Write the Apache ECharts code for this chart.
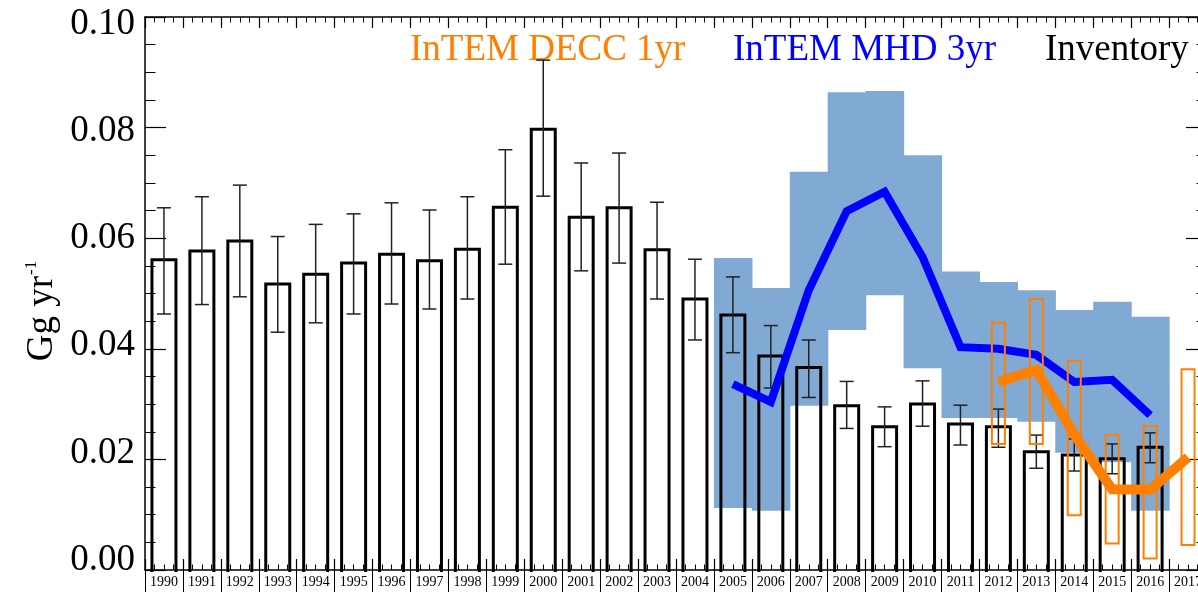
<!DOCTYPE html>
<html>
<head>
<meta charset="utf-8">
<script src="https://cdn.jsdelivr.net/npm/echarts@6/dist/echarts.min.js"></script>
<style>
  html, body { margin: 0; padding: 0; background: #fff; }
  #chart { width: 1198px; height: 592px; }
</style>
</head>
<body>
<div id="chart"></div>
<script>
// inventory (black bars with error bars)
const years = [1990, 1991, 1992, 1993, 1994, 1995, 1996, 1997, 1998, 1999, 2000, 2001, 2002, 2003,
  2004, 2005, 2006, 2007, 2008, 2009, 2010, 2011, 2012, 2013, 2014, 2015, 2016];
const inventory = [0.0561, 0.0577, 0.0595, 0.0517, 0.0535, 0.0555, 0.0571, 0.0559, 0.0580, 0.0656,
  0.0797, 0.0638, 0.0655, 0.0579, 0.0490, 0.0461, 0.0387, 0.0366, 0.0297, 0.0259, 0.0300, 0.0264,
  0.0259, 0.0214, 0.0208, 0.0201, 0.0222];
const invLow = [0.0463, 0.0480, 0.0494, 0.0430, 0.0447, 0.0463, 0.0481, 0.0472, 0.0490, 0.0553,
  0.0676, 0.0541, 0.0555, 0.0490, 0.0416, 0.0393, 0.0329, 0.0312, 0.0256, 0.0223, 0.0260, 0.0226,
  0.0222, 0.0184, 0.0179, 0.0174, 0.0194];
const invHigh = [0.0655, 0.0675, 0.0696, 0.0603, 0.0625, 0.0644, 0.0664, 0.0651, 0.0675, 0.0760,
  0.0922, 0.0736, 0.0754, 0.0665, 0.0562, 0.0530, 0.0442, 0.0416, 0.0341, 0.0295, 0.0342, 0.0298,
  0.0291, 0.0244, 0.0237, 0.0228, 0.0248];

// InTEM MHD 3yr (blue line + shaded range)
const mhdYears = [2005, 2006, 2007, 2008, 2009, 2010, 2011, 2012, 2013, 2014, 2015, 2016];
const mhd = [0.0336, 0.0304, 0.0506, 0.0649, 0.0684, 0.0566, 0.0403, 0.0400, 0.0389, 0.0340, 0.0344, 0.0280];
const mhdLow = [0.0112, 0.0107, 0.0297, 0.0434, 0.0497, 0.0365, 0.0275, 0.0275, 0.0268, 0.0212, 0.0195, 0.0107];
const mhdHigh = [0.0564, 0.0510, 0.0720, 0.0864, 0.0866, 0.0750, 0.0540, 0.0521, 0.0506, 0.0470, 0.0485, 0.0458];

// InTEM DECC 1yr (orange line + open boxes)
const deccYears = [2012, 2013, 2014, 2015, 2016, 2017];
const decc = [0.0340, 0.0362, 0.0245, 0.0146, 0.0145, 0.0204];
const deccLow = [0.0228, 0.0228, 0.0099, 0.0048, 0.0021, 0.0045];
const deccHigh = [0.0447, 0.0490, 0.0378, 0.0244, 0.0260, 0.0363];

const ORANGE = '#ff7f00';
const BLUE = '#0000ff';
const BAND = '#80aad4';
const SERIF = "'Liberation Serif', 'DejaVu Serif', serif";

const chart = echarts.init(document.getElementById('chart'));

const xBase = { type: 'value', min: 1989.5, max: 2017.5, interval: 1, gridIndex: 0, splitLine: { show: false } };
const yBase = { type: 'value', min: 0, max: 0.1, interval: 0.02, gridIndex: 0, splitLine: { show: false } };
const axisLine = { show: true, lineStyle: { color: '#000', width: 1.5 } };

// shaded range, one step per year
function renderBand(params, api) {
  const x = api.value(0);
  const p0 = api.coord([x - 0.5, api.value(2)]);
  const p1 = api.coord([x + 0.5, api.value(1)]);
  return {
    type: 'rect',
    shape: { x: p0[0], y: p0[1], width: p1[0] - p0[0] + 0.6, height: p1[1] - p0[1] },
    style: { fill: BAND }
  };
}

// open bars (no bottom edge, no fill)
function renderBar(params, api) {
  const x = api.value(0);
  const top = api.coord([x, api.value(1)]);
  const base = api.coord([x, 0]);
  const hw = 12;
  return {
    type: 'polyline',
    shape: { points: [[top[0] - hw, base[1] + 2], [top[0] - hw, top[1]], [top[0] + hw, top[1]], [top[0] + hw, base[1] + 2]] },
    style: { fill: 'none', stroke: '#000', lineWidth: 3, lineJoin: 'miter' }
  };
}

function renderErr(params, api) {
  const x = api.value(0);
  const top = api.coord([x, api.value(2)]);
  const bot = api.coord([x, api.value(1)]);
  const st = { stroke: '#222', lineWidth: 1.5 };
  const hw = 7;
  return {
    type: 'group',
    children: [
      { type: 'line', shape: { x1: top[0], y1: top[1], x2: bot[0], y2: bot[1] }, style: st },
      { type: 'line', shape: { x1: top[0] - hw, y1: top[1], x2: top[0] + hw, y2: top[1] }, style: st },
      { type: 'line', shape: { x1: bot[0] - hw, y1: bot[1], x2: bot[0] + hw, y2: bot[1] }, style: st }
    ]
  };
}

function renderBox(params, api) {
  const x = api.value(0);
  const top = api.coord([x, api.value(2)]);
  const bot = api.coord([x, api.value(1)]);
  return {
    type: 'rect',
    shape: { x: top[0] - 6.5, y: top[1], width: 13, height: bot[1] - top[1] },
    style: { fill: 'none', stroke: ORANGE, lineWidth: 2 }
  };
}

const option = {
  animation: false,
  backgroundColor: '#fff',
  grid: [
    { left: 145, right: -9, top: 17, bottom: 22, outerBoundsMode: 'none', containLabel: false },
    { left: 145, right: -9, top: 24, bottom: 32, outerBoundsMode: 'none', containLabel: false }
  ],
  xAxis: [
    Object.assign({}, xBase, {
      position: 'bottom',
      axisLine: axisLine,
      axisTick: { show: true, inside: true, length: 11, lineStyle: { color: '#000', width: 1.2 } },
      minorTick: { show: true, splitNumber: 4, length: 5.5, lineStyle: { color: '#000', width: 1 } },
      axisLabel: {
        show: true,
        margin: 5,
        padding: [0, 0, 0, 38],
        fontFamily: SERIF,
        fontSize: 14,
        color: '#000',
        formatter: (v) => (v < 2017 ? String(Math.round(v + 0.5)) : '')
      }
    }),
    Object.assign({}, xBase, {
      position: 'bottom',
      offset: 0,
      axisLine: { show: false },
      axisTick: { show: true, inside: false, length: 22, lineStyle: { color: '#000', width: 1 } },
      axisLabel: { show: false }
    }),
    Object.assign({}, xBase, {
      position: 'top',
      axisLine: axisLine,
      axisTick: { show: true, inside: true, length: 11, lineStyle: { color: '#000', width: 1.2 } },
      minorTick: { show: true, splitNumber: 4, length: 5.5, lineStyle: { color: '#000', width: 1 } },
      axisLabel: { show: false }
    }),
    { type: 'value', gridIndex: 1, min: 0, max: 1, show: false }
  ],
  yAxis: [
    Object.assign({}, yBase, {
      position: 'left',
      axisLine: axisLine,
      axisTick: { show: true, inside: true, length: 21, lineStyle: { color: '#000', width: 1.2 } },
      minorTick: { show: true, splitNumber: 4, length: 10.5, lineStyle: { color: '#000', width: 1 } },
      axisLabel: { show: false }
    }),
    Object.assign({}, yBase, {
      position: 'right',
      axisLine: axisLine,
      axisTick: { show: true, inside: true, length: 21, lineStyle: { color: '#000', width: 1.2 } },
      minorTick: { show: true, splitNumber: 4, length: 10.5, lineStyle: { color: '#000', width: 1 } },
      axisLabel: { show: false }
    }),
    {
      type: 'value', gridIndex: 1, min: 0, max: 0.1, interval: 0.02,
      axisLine: { show: false }, axisTick: { show: false }, splitLine: { show: false },
      axisLabel: {
        margin: 10, fontFamily: SERIF, fontSize: 37, color: '#000',
        formatter: (v) => v.toFixed(2)
      }
    }
  ],
  graphic: [
    { type: 'text', x: 410, y: 50, style: { text: 'InTEM DECC 1yr', font: '37px ' + SERIF, fill: ORANGE, textVerticalAlign: 'middle' } },
    { type: 'text', x: 733, y: 50, style: { text: 'InTEM MHD 3yr', font: '37px ' + SERIF, fill: BLUE, textVerticalAlign: 'middle' } },
    { type: 'text', x: 1045, y: 50, style: { text: 'Inventory', font: '37px ' + SERIF, fill: '#000', textVerticalAlign: 'middle' } },
    {
      type: 'text', x: 42, y: 311, rotation: Math.PI / 2,
      style: {
        text: '{m|Gg yr}{s|-1}',
        align: 'center', verticalAlign: 'middle',
        rich: {
          m: { font: '37px ' + SERIF, fill: '#000' },
          s: { font: '17px ' + SERIF, fill: '#000', verticalAlign: 'top', padding: [0, 0, 14, 1] }
        }
      }
    }
  ],
  series: [
    {
      type: 'custom', name: 'MHD range', xAxisIndex: 0, yAxisIndex: 0, z: 1,
      renderItem: renderBand,
      encode: { x: 0, y: [1, 2] },
      data: mhdYears.map((y, i) => [y, mhdLow[i], mhdHigh[i]])
    },
    {
      type: 'custom', name: 'Inventory', xAxisIndex: 0, yAxisIndex: 0, z: 2,
      renderItem: renderBar,
      encode: { x: 0, y: 1 },
      data: years.map((y, i) => [y, inventory[i]])
    },
    {
      type: 'custom', name: 'Inventory err', xAxisIndex: 0, yAxisIndex: 0, z: 3,
      renderItem: renderErr,
      encode: { x: 0, y: [1, 2] },
      data: years.map((y, i) => [y, invLow[i], invHigh[i]])
    },
    {
      type: 'line', name: 'InTEM MHD 3yr', xAxisIndex: 0, yAxisIndex: 0, z: 4,
      showSymbol: false, symbol: 'none',
      lineStyle: { color: BLUE, width: 8, join: 'miter', cap: 'butt' },
      data: mhdYears.map((y, i) => [y, mhd[i]])
    },
    {
      type: 'custom', name: 'DECC range', xAxisIndex: 0, yAxisIndex: 0, z: 5,
      renderItem: renderBox,
      encode: { x: 0, y: [1, 2] },
      data: deccYears.map((y, i) => [y, deccLow[i], deccHigh[i]])
    },
    {
      type: 'line', name: 'InTEM DECC 1yr', xAxisIndex: 0, yAxisIndex: 0, z: 6,
      showSymbol: false, symbol: 'none',
      lineStyle: { color: ORANGE, width: 10, join: 'miter', cap: 'butt' },
      data: deccYears.map((y, i) => [y, decc[i]])
    }
  ]
};

chart.setOption(option);
window.addEventListener('resize', () => chart.resize());
</script>
</body>
</html>
